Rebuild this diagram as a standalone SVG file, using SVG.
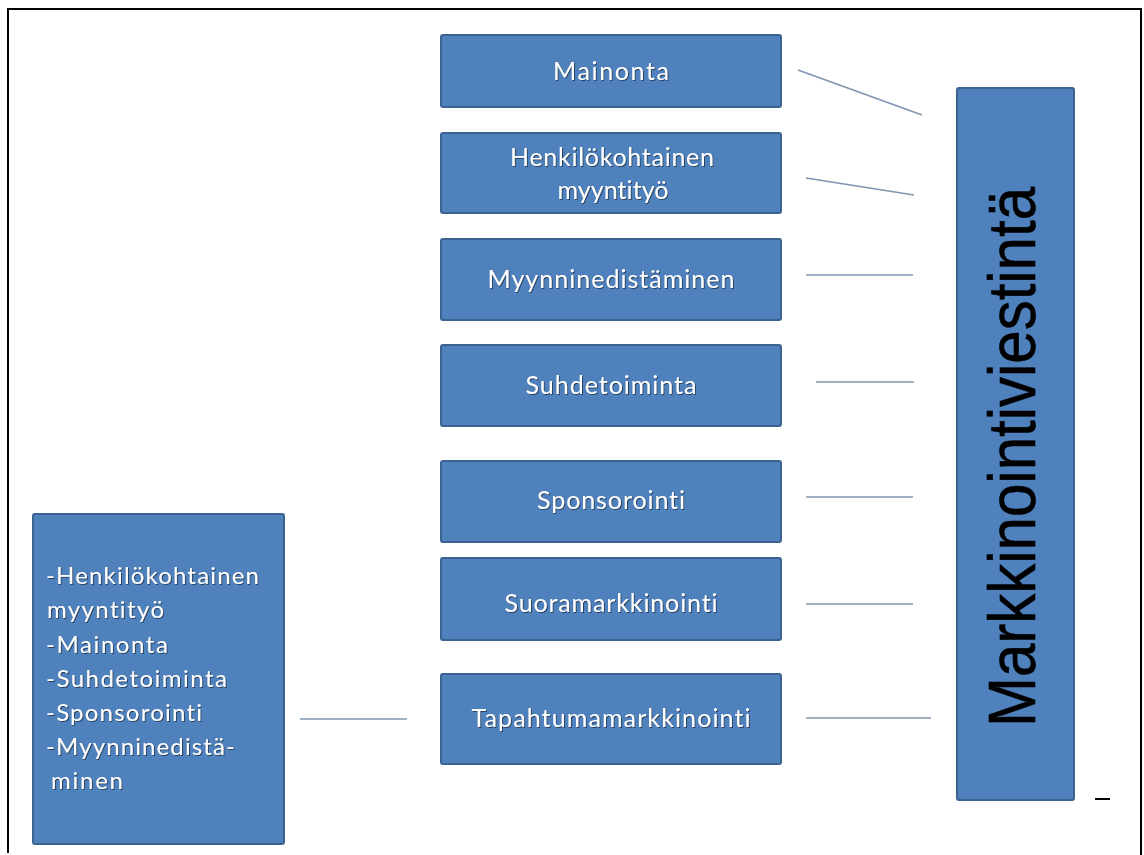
<svg xmlns="http://www.w3.org/2000/svg" width="1144" height="855" viewBox="0 0 1144 855">
  <defs>
    <filter id="txtShadow" x="-5%" y="-20%" width="110%" height="140%">
      <feDropShadow dx="1" dy="1" stdDeviation="0.6" flood-color="#1f2f45" flood-opacity="0.75"/>
    </filter>
  </defs>
  <style>
    .box { fill: #4f81bd; stroke: #3b6290; stroke-width: 2; }
    .lbl { font-family: Lato, "Liberation Sans", sans-serif; font-size: 25px; fill: #ffffff; text-anchor: middle; filter: url(#txtShadow); font-variant-ligatures: none; }
    .list { font-family: Lato, "Liberation Sans", sans-serif; font-size: 24px; fill: #ffffff; filter: url(#txtShadow); font-variant-ligatures: none; }
    .big { font-family: "Liberation Sans", Arial, sans-serif; font-size: 66px; fill: #000000; stroke: #000000; stroke-width: 0.6; text-anchor: middle; }
    .link { stroke: #7f95b0; stroke-width: 1.5; fill: none; }
    .frame { stroke: #000000; stroke-width: 2; fill: none; }
  </style>

  <rect width="1144" height="855" fill="#ffffff"/>

  <!-- page frame -->
  <path class="frame" d="M8 853 V9 H1141 V855"/>

  <!-- connectors -->
  <g id="connectors">
    <line class="link" x1="798" y1="70" x2="922" y2="115"/>
    <line class="link" x1="806" y1="178" x2="914" y2="195"/>
    <line class="link" x1="806" y1="275" x2="913" y2="275"/>
    <line class="link" x1="816" y1="382" x2="914" y2="382"/>
    <line class="link" x1="806" y1="497" x2="913" y2="497"/>
    <line class="link" x1="806" y1="604" x2="913" y2="604"/>
    <line class="link" x1="806" y1="718" x2="931" y2="718"/>
    <line class="link" x1="300" y1="719" x2="407" y2="719"/>
  </g>

  <g id="mainonta">
    <rect class="box" x="441" y="35" width="340" height="72" rx="2"/>
    <text class="lbl" x="611" y="80" textLength="116" lengthAdjust="spacing">Mainonta</text>
  </g>

  <g id="henkilokohtainen">
    <rect class="box" x="441" y="133" width="340" height="80" rx="2"/>
    <text class="lbl" x="612" y="166" textLength="204" lengthAdjust="spacing">Henkilökohtainen</text>
    <text class="lbl" x="613" y="199" textLength="111" lengthAdjust="spacing">myyntityö</text>
  </g>

  <g id="myynninedistaminen">
    <rect class="box" x="441" y="239" width="340" height="81" rx="2"/>
    <text class="lbl" x="611" y="288" textLength="247" lengthAdjust="spacing">Myynninedistäminen</text>
  </g>

  <g id="suhdetoiminta">
    <rect class="box" x="441" y="345" width="340" height="81" rx="2"/>
    <text class="lbl" x="611" y="394" textLength="171" lengthAdjust="spacing">Suhdetoiminta</text>
  </g>

  <g id="sponsorointi">
    <rect class="box" x="441" y="461" width="340" height="81" rx="2"/>
    <text class="lbl" x="611" y="509" textLength="148" lengthAdjust="spacing">Sponsorointi</text>
  </g>

  <g id="suoramarkkinointi">
    <rect class="box" x="441" y="558" width="340" height="82" rx="2"/>
    <text class="lbl" x="611" y="612" textLength="213" lengthAdjust="spacing">Suoramarkkinointi</text>
  </g>

  <g id="tapahtumamarkkinointi">
    <rect class="box" x="441" y="674" width="340" height="90" rx="2"/>
    <text class="lbl" x="611" y="727" textLength="279" lengthAdjust="spacing">Tapahtumamarkkinointi</text>
  </g>

  <g id="yhdistelma">
    <rect class="box" x="33" y="514" width="251" height="330" rx="2"/>
    <text class="list" x="46" y="584" textLength="213" lengthAdjust="spacing">-Henkilökohtainen</text>
    <text class="list" x="47" y="618" textLength="117" lengthAdjust="spacing">myyntityö</text>
    <text class="list" x="46" y="653" textLength="122" lengthAdjust="spacing">-Mainonta</text>
    <text class="list" x="46" y="687" textLength="181" lengthAdjust="spacing">-Suhdetoiminta</text>
    <text class="list" x="46" y="721" textLength="156" lengthAdjust="spacing">-Sponsorointi</text>
    <text class="list" x="46" y="755" textLength="189" lengthAdjust="spacing">-Myynninedistä-</text>
    <text class="list" x="51" y="789" textLength="72" lengthAdjust="spacing">minen</text>
  </g>

  <g id="markkinointiviestinta">
    <rect class="box" x="957" y="88" width="117" height="712" rx="2"/>
    <text class="big" transform="translate(1035 457) rotate(-90)" textLength="540" lengthAdjust="spacingAndGlyphs">Markkinointiviestintä</text>
  </g>

  <!-- small dash at lower right -->
  <line x1="1095" y1="799" x2="1110" y2="799" stroke="#000000" stroke-width="2"/>
</svg>
